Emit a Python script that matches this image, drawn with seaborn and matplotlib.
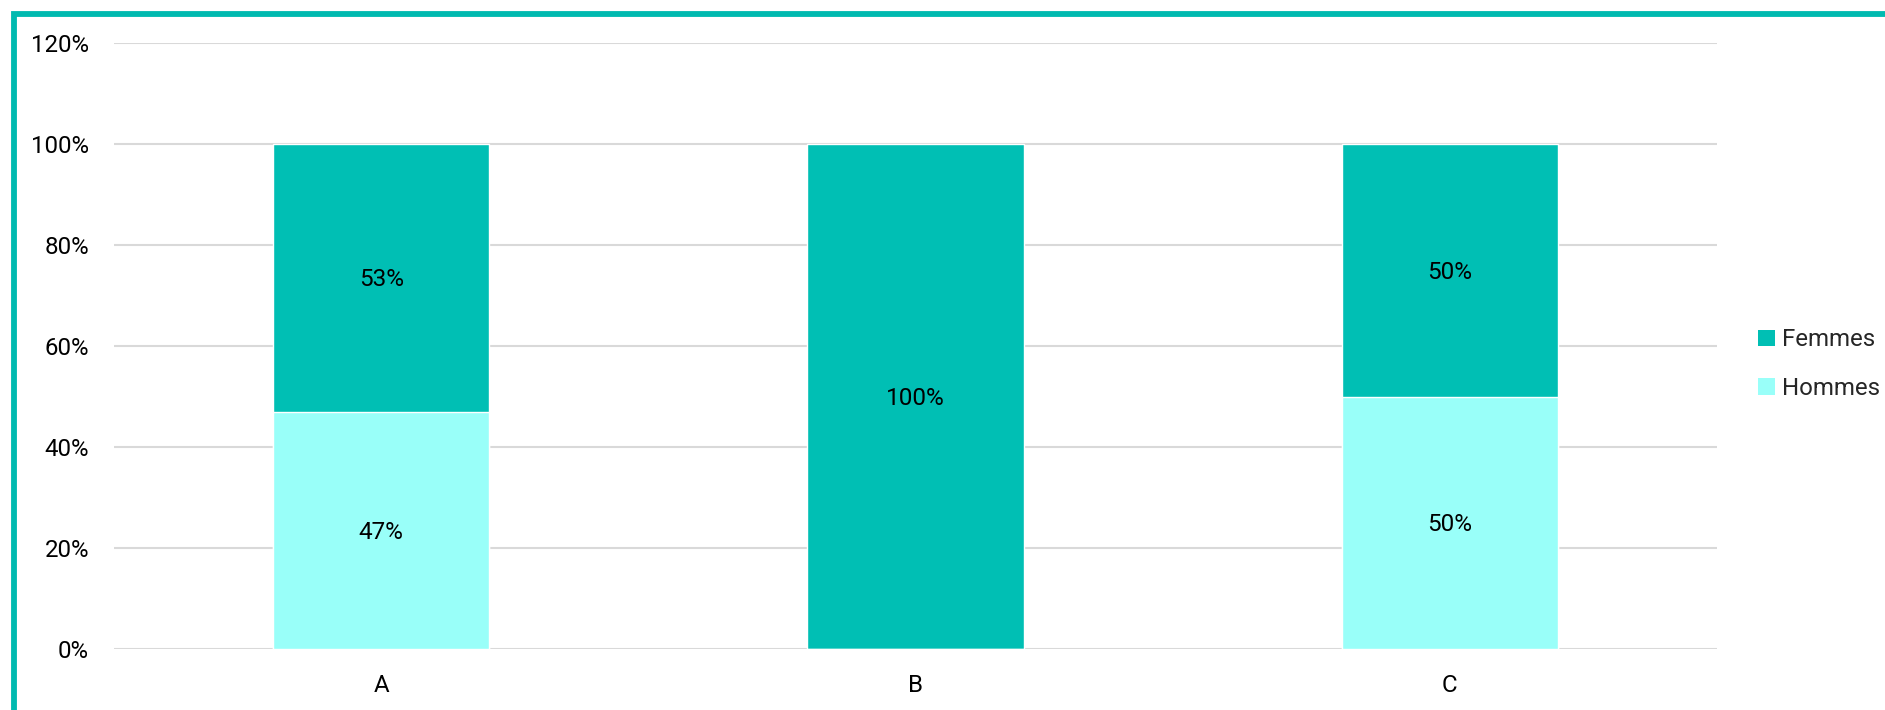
import matplotlib
matplotlib.use("Agg")
import matplotlib.pyplot as plt
import seaborn as sns
import pandas as pd
from matplotlib.patches import Patch, Rectangle

categories = ["A", "B", "C"]
hommes = [47, 0, 50]
femmes = [53, 100, 50]
y_ticks = [0, 20, 40, 60, 80, 100, 120]

col_femmes = "#00BFB4"
col_hommes = "#99FFF9"
border_col = "#00BAB0"

sns.set_theme(style="white")
plt.rcParams["font.family"] = ["Roboto", "DejaVu Sans"]

df = pd.DataFrame({"cat": categories, "Hommes": hommes, "Femmes": femmes})
df["total"] = df["Hommes"] + df["Femmes"]

fig = plt.figure(figsize=(18.85, 7.1), dpi=100)
ax = fig.add_axes([114/1885, 61/710, (1717-114)/1885, (649-43)/710])

sns.barplot(data=df, x="cat", y="total", color=col_femmes, width=0.405,
            saturation=1, ax=ax, zorder=3)
sns.barplot(data=df, x="cat", y="Hommes", color=col_hommes, width=0.405,
            saturation=1, ax=ax, zorder=3)

lab_fs = 17.5
cap_half = lab_fs * 0.711 / 2
for i, (h, f) in enumerate(zip(hommes, femmes)):
    if h > 0:
        ax.annotate(f"{h}%", (i, h / 2), xytext=(0, -cap_half), textcoords="offset points",
                    ha="center", va="baseline", fontsize=lab_fs, color="black", zorder=5)
    if f > 0:
        ax.annotate(f"{f}%", (i, h + f / 2), xytext=(0, -cap_half), textcoords="offset points",
                    ha="center", va="baseline", fontsize=lab_fs, color="black", zorder=5)

ax.set_ylim(0, 120)
ax.set_yticks(y_ticks)
ax.set_yticklabels([f"{t}%" for t in y_ticks])
ax.yaxis.grid(True, color="#D9D9D9", linewidth=1.5, zorder=0)
ax.xaxis.grid(False)
ax.set_axisbelow(True)
for s in ax.spines.values():
    s.set_visible(False)
ax.tick_params(axis="y", length=0, pad=18, labelsize=17.3, labelcolor="#000000")
ax.tick_params(axis="x", length=0, pad=18, labelsize=17.3, labelcolor="#000000")
ax.set_xlabel("")
ax.set_ylabel("")

handles = [Patch(facecolor=col_femmes, edgecolor="none", label="Femmes"),
           Patch(facecolor=col_hommes, edgecolor="none", label="Hommes")]
fig.legend(handles=handles, loc="center left", bbox_to_anchor=(1758/1885, 1 - 364/710),
           frameon=False, fontsize=17.3, handlelength=0.7, handleheight=0.7,
           handletextpad=0.3, labelspacing=1.05, borderpad=0, borderaxespad=0)

fig.patches.append(Rectangle((14/1885, -0.2), 1.2, 0.2 + (1 - 14/710),
                             transform=fig.transFigure, fill=False,
                             edgecolor=border_col, linewidth=4.2, clip_on=False))

fig.savefig("out.png", dpi=100)
